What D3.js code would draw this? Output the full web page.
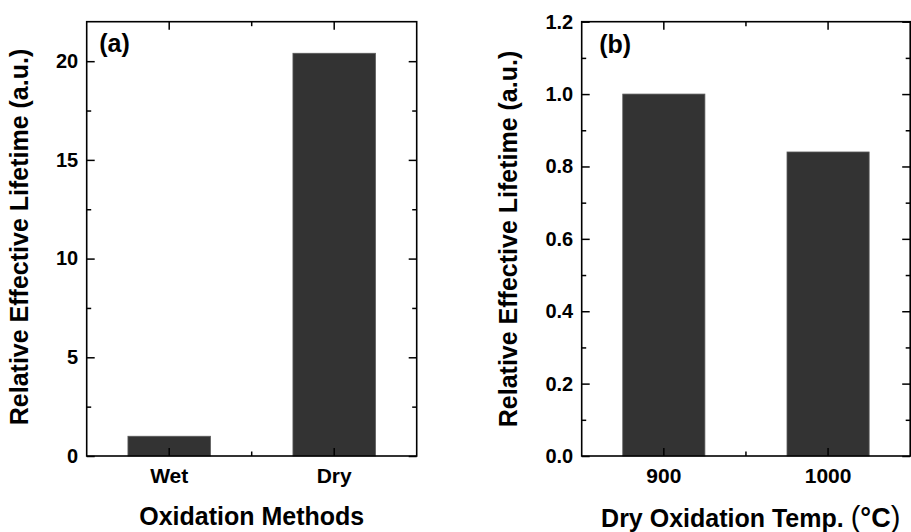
<!DOCTYPE html>
<html>
<head>
<meta charset="utf-8">
<script src="https://cdn.jsdelivr.net/npm/d3@7"></script>
<style>
  html, body { margin: 0; padding: 0; background: #fff; }
  svg { display: block; }
  text { font-family: "Liberation Sans", Arial, sans-serif; font-weight: bold; fill: #000; }
</style>
</head>
<body>
<svg id="chart" width="911" height="532"></svg>
<script>
// ---- Data ----
const methodCategories = ["Wet", "Dry"];
const methodValues = [1.0, 20.4];
const methodTicks = [0, 5, 10, 15, 20];
const methodMinorTicks = [2.5, 7.5, 12.5, 17.5];

const tempCategories = ["900", "1000"];
const tempValues = [1.0, 0.84];
const tempTicks = [0.0, 0.2, 0.4, 0.6, 0.8, 1.0, 1.2];
const tempMinorTicks = [0.1, 0.3, 0.5, 0.7, 0.9, 1.1];

const svg = d3.select("#chart");

function panel(opts) {
  const g = svg.append("g").attr("transform", `translate(${opts.left},${opts.top})`);
  const W = opts.width, H = opts.height;

  const x = d3.scaleBand().domain(opts.categories).range([0, W])
    .paddingInner(0.5).paddingOuter(0.25);
  const y = d3.scaleLinear().domain(opts.yDomain).range([H, 0]);

  // bars
  g.selectAll("rect.bar").data(opts.categories.map((c, i) => ({ c, v: opts.values[i] })))
    .enter().append("rect").attr("class", "bar")
    .attr("x", d => x(d.c)).attr("width", x.bandwidth())
    .attr("y", d => y(d.v)).attr("height", d => H - y(d.v))
    .attr("fill", "#333333").attr("stroke", "#5a5a5a").attr("stroke-width", 0.8);

  const tickStyle = sel => {
    sel.select(".domain").remove();
    sel.selectAll(".tick line").attr("stroke", "#000").attr("stroke-width", 1.5);
  };

  // left axis with labels
  const left = g.append("g").call(
    d3.axisLeft(y).tickValues(opts.yTicks).tickFormat(opts.fmt)
      .tickSizeInner(-8).tickSizeOuter(0).tickPadding(8.5));
  tickStyle(left);
  left.selectAll(".tick text").style("font-size", "20px").style("font-family", null).attr("fill", "#000");
  // left minor
  const leftMinor = g.append("g").call(
    d3.axisLeft(y).tickValues(opts.yMinor).tickFormat("").tickSizeInner(-4.5).tickSizeOuter(0));
  tickStyle(leftMinor);
  // right mirrors
  const right = g.append("g").attr("transform", `translate(${W},0)`).call(
    d3.axisRight(y).tickValues(opts.yTicks).tickFormat("").tickSizeInner(-8).tickSizeOuter(0));
  tickStyle(right);
  const rightMinor = g.append("g").attr("transform", `translate(${W},0)`).call(
    d3.axisRight(y).tickValues(opts.yMinor).tickFormat("").tickSizeInner(-4.5).tickSizeOuter(0));
  tickStyle(rightMinor);

  // bottom axis
  const bottom = g.append("g").attr("transform", `translate(0,${H})`).call(
    d3.axisBottom(x).tickSizeInner(-8).tickSizeOuter(0).tickPadding(12));
  tickStyle(bottom);
  bottom.selectAll(".tick text").style("font-size", "21px").style("font-family", null).attr("fill", "#000");
  const top = g.append("g").call(
    d3.axisTop(x).tickFormat("").tickSizeInner(-8).tickSizeOuter(0));
  tickStyle(top);

  // minor ticks between categories (bottom and top)
  const mids = [];
  for (let i = 0; i < opts.categories.length - 1; i++) {
    mids.push((x(opts.categories[i]) + x.bandwidth() + x(opts.categories[i + 1])) / 2);
  }
  mids.forEach(m => {
    g.append("line").attr("x1", m).attr("x2", m).attr("y1", H).attr("y2", H - 4.5)
      .attr("stroke", "#000").attr("stroke-width", 1.5);
    g.append("line").attr("x1", m).attr("x2", m).attr("y1", 0).attr("y2", 4.5)
      .attr("stroke", "#000").attr("stroke-width", 1.5);
  });

  // frame
  g.append("rect").attr("x", 0).attr("y", 0).attr("width", W).attr("height", H)
    .attr("fill", "none").attr("stroke", "#000").attr("stroke-width", 1.6);

  // panel letter
  g.append("text").attr("x", opts.letterX).attr("y", opts.letterY)
    .style("font-size", "25px").text(opts.letter);

  // y title
  svg.append("text")
    .attr("transform", `translate(${opts.yTitleX},${opts.yTitleY}) rotate(-90)`)
    .attr("text-anchor", "middle").style("font-size", "25px")
    .text("Relative Effective Lifetime (a.u.)");

  return { g, x, y, W, H };
}

const pa = panel({
  left: 86.7, top: 21.7, width: 330, height: 434.3,
  categories: methodCategories, values: methodValues,
  yDomain: [0, 22], yTicks: methodTicks, yMinor: methodMinorTicks,
  fmt: d3.format("d"), letter: "(a)", letterX: 12.5, letterY: 30,
  yTitleX: 28, yTitleY: 237
});
svg.append("text").attr("x", 86.7 + 165).attr("y", 525)
  .attr("text-anchor", "middle").style("font-size", "25px").text("Oxidation Methods");

const pb = panel({
  left: 581.7, top: 21.7, width: 328.5, height: 434.3,
  categories: tempCategories, values: tempValues,
  yDomain: [0, 1.2], yTicks: tempTicks, yMinor: tempMinorTicks,
  fmt: d3.format(".1f"), letter: "(b)", letterX: 17.5, letterY: 31.5,
  yTitleX: 517, yTitleY: 239
});
const tb = svg.append("text").attr("x", 581.7 + 169).attr("y", 527)
  .attr("text-anchor", "middle").style("font-size", "25px");
tb.append("tspan").text("Dry Oxidation Temp. ");
tb.append("tspan").style("font-size", "29px").style("font-weight", "normal").text("(");
tb.append("tspan").style("font-size", "27px").text("°C");
tb.append("tspan").style("font-size", "29px").style("font-weight", "normal").text(")");
</script>
</body>
</html>
